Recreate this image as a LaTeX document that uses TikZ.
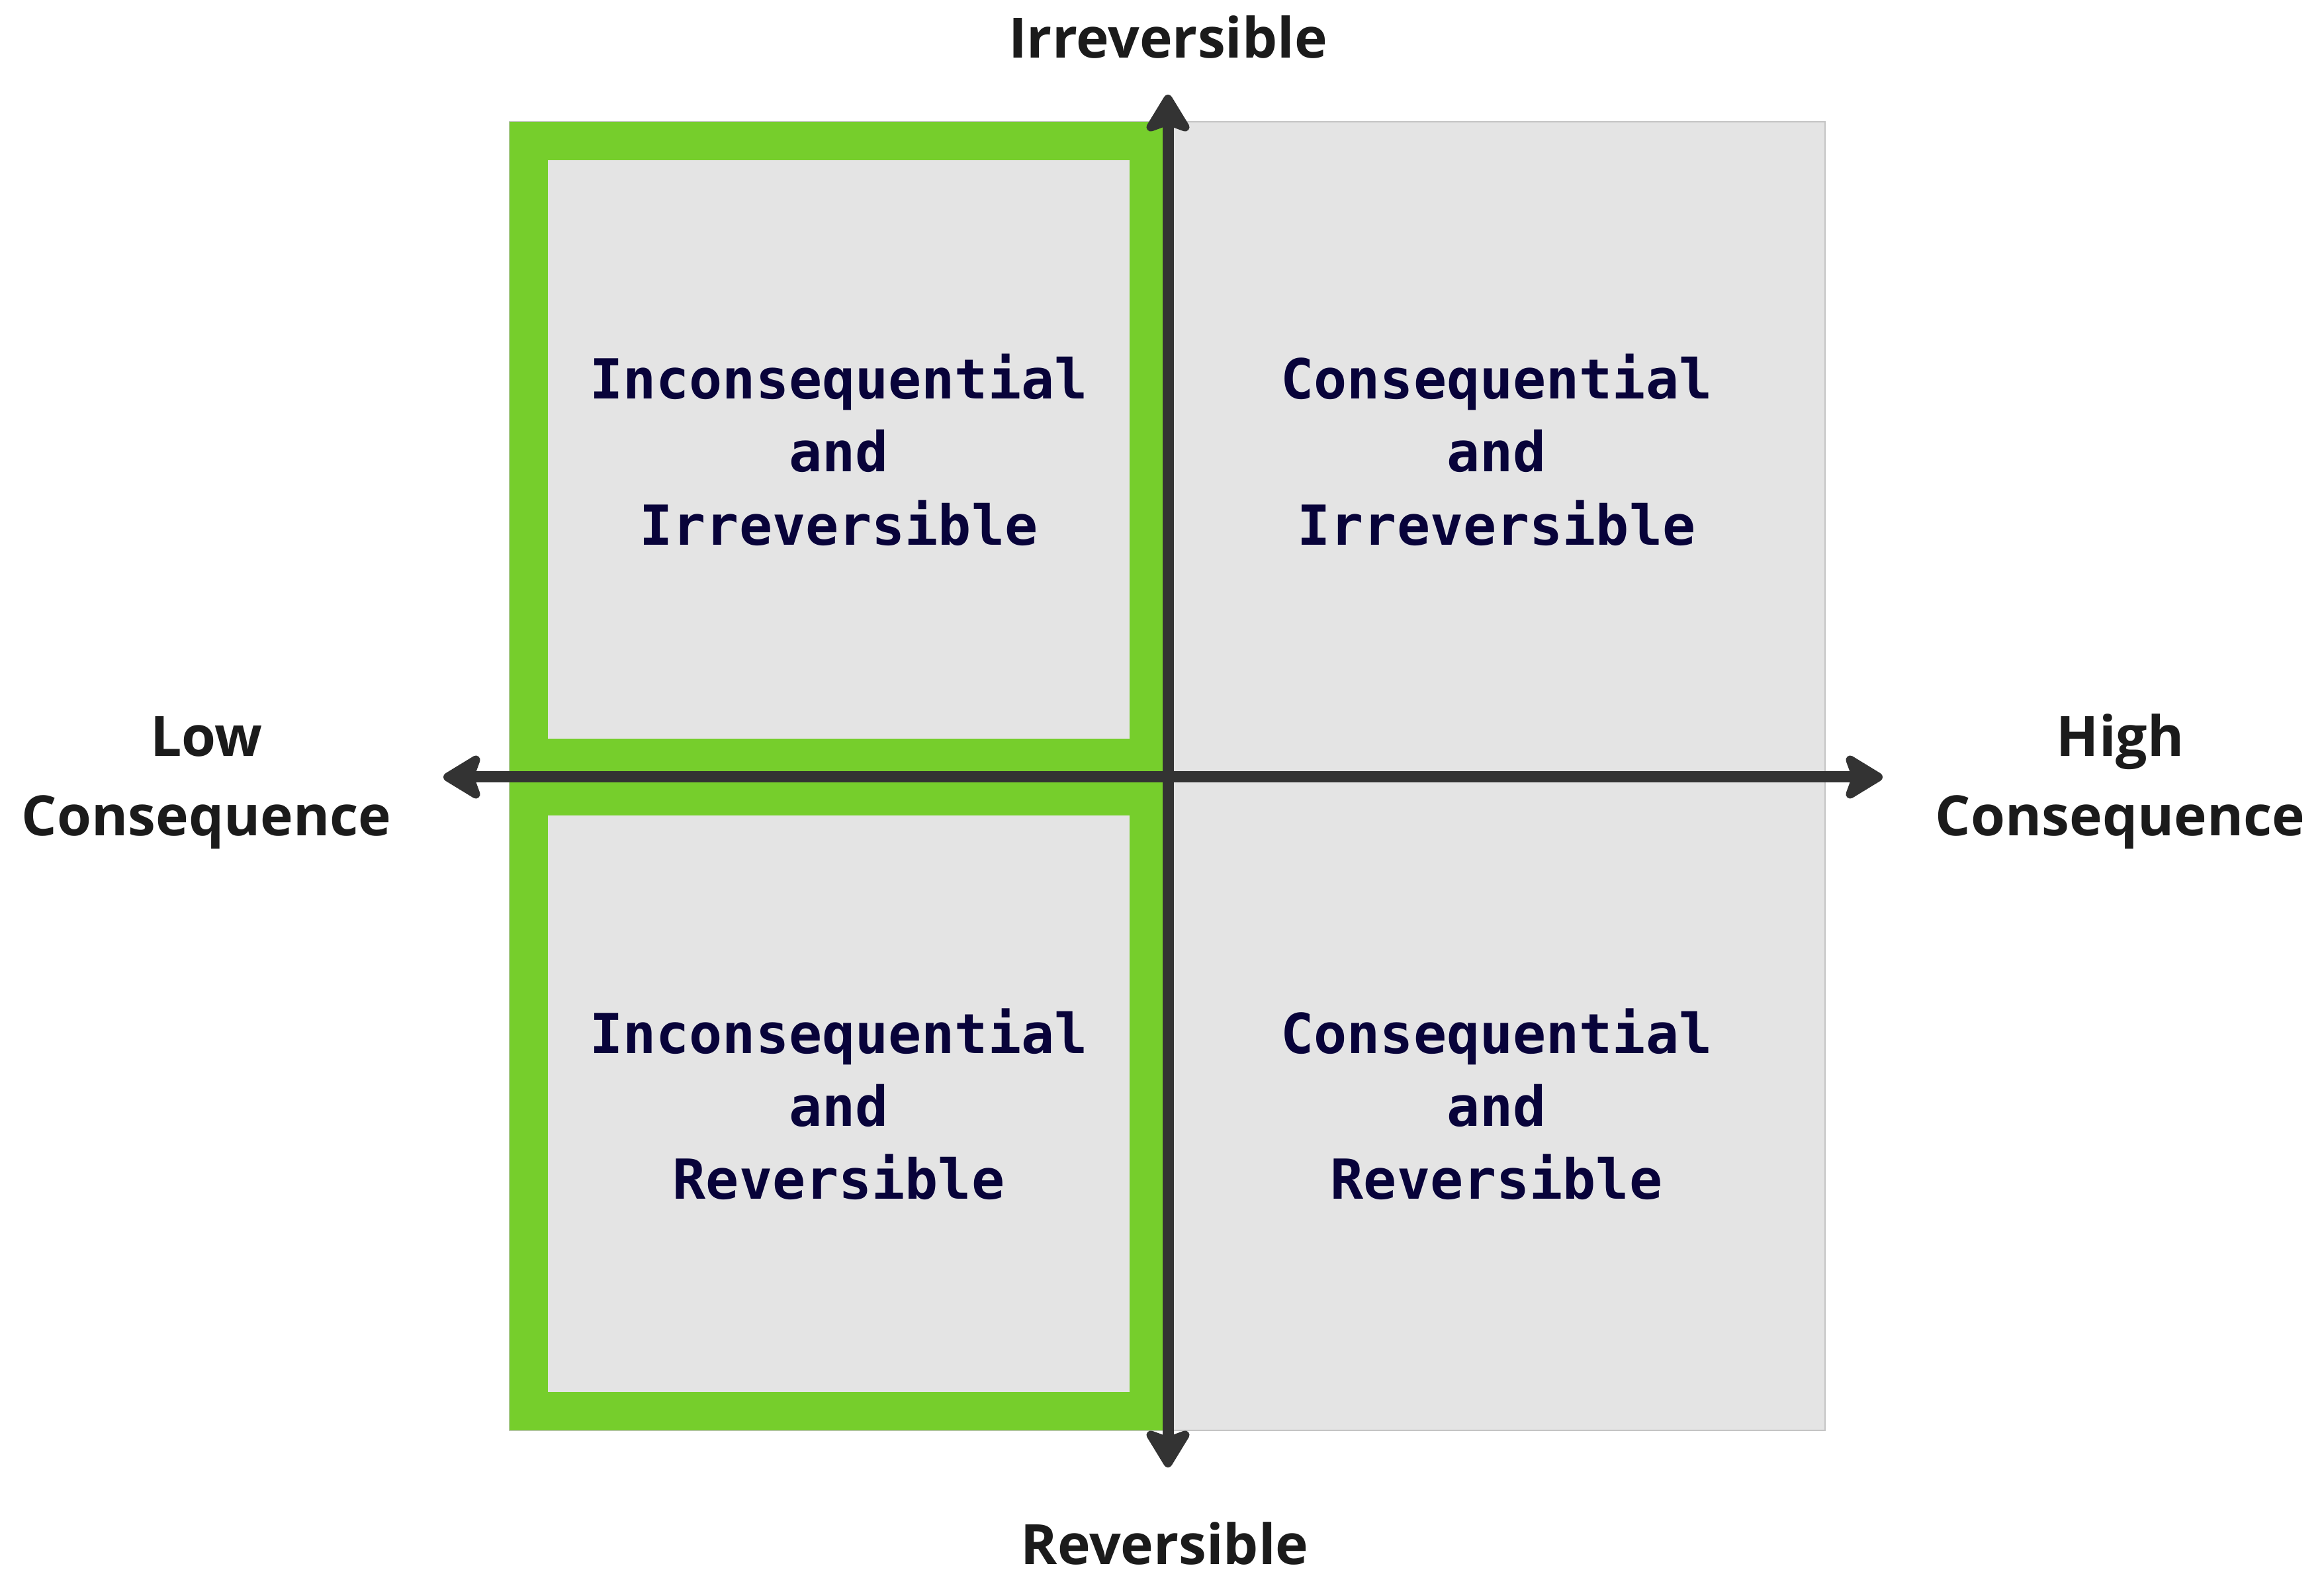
\documentclass[tikz,border=0pt]{standalone}
\usepackage{fontspec}
\setsansfont{Open Sans}
\setmonofont{DejaVu Sans Mono}
\usepackage{tikz}
\usetikzlibrary{arrows.meta, positioning}
\usepackage{xcolor}
\definecolor{Lime}{HTML}{76CE2C}
\definecolor{LiteGray}{HTML}{E4E4E4}
\definecolor{EdgeGray}{HTML}{C4C4C4}
\definecolor{Charcoal}{HTML}{333333}
\definecolor{RichBlack}{HTML}{1B1B1B}
\definecolor{Ink}{HTML}{08033A}
\tikzset{%
  quadrant/.style={%
    rectangle,%
    inner sep=0pt,%
    outer sep=0pt,%
    align=center,%
    text depth=0pt,%
    text=Ink,%
    font={\ttfamily\bfseries\fontsize{23.7}{31.4}\selectfont},%
  },
  chosen/.style={%
    draw=Lime,%
    line width=0.58cm,%
    outer sep=0.29cm,%
  },
  axis_label/.style={%
    inner sep=0pt,%
    align=center,%
    text=RichBlack,%
    font={\sffamily\bfseries\fontsize{23.9}{34.1}\selectfont},%
  },
  axis_line/.style={%
    color=Charcoal,%
    line width=0.17cm,%
  },
  arrow/.style={%
    {Stealth[length=19pt, width=22.8pt, inset=4pt, round]}-%
    {Stealth[length=19pt, width=22.8pt, inset=4pt, round]}%
  },
  grid_area/.style={%
    fill=LiteGray,%
    draw=EdgeGray,%
    line width=0.6pt,%
  },
}

\begin{document}
\begin{tikzpicture}[x=1cm, y=1cm]
    \useasboundingbox (0, 0) rectangle (35.12, 23.77);
    \draw [grid_area] (7.70, 2.16) rectangle (27.58, 21.93);

    \node [quadrant, chosen, minimum width=9.37cm, minimum height=9.32cm]
      (InconIrrev) at (12.675, 16.98)
      {Inconsequential\\and\\Irreversible};
    \node [quadrant, chosen, minimum width=9.37cm, minimum height=9.29cm,
      below=0cm of InconIrrev] (InconRev)
      {Inconsequential\\and\\Reversible};
    \node [quadrant, minimum width=9.93cm, minimum height=9.90cm,
      right=0cm of InconIrrev] (ConIrrev)
      {Consequential\\and\\Irreversible};
    \node [quadrant, minimum width=9.93cm, minimum height=9.87cm,
      right=0cm of InconRev] (ConRev)
      {Consequential\\and\\Reversible};

    \coordinate (West) at (6.70, 12.03);
    \coordinate (East) at (28.45, 12.03);
    \coordinate (North) at (17.65, 22.34);
    \coordinate (South) at (17.65, 1.60);

    \draw [arrow, axis_line] (West) -- (East);
    \draw [arrow, axis_line] (South) -- (North);

    \node [axis_label, anchor=base] (Irrev) at (17.65, 22.89) {Irreversible};
    \node [axis_label, anchor=base] (Rev) at (17.60, 0.14) {Reversible};
    \node [axis_label] (LowCons) at (3.12, 11.94) {Low\\Consequence};
    \node [axis_label] (HighCons) at (32.04, 11.96) {High\\Consequence};
  \end{tikzpicture}
\end{document}
